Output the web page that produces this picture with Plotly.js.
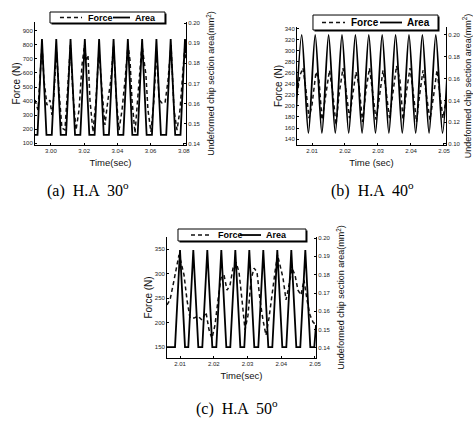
<!DOCTYPE html>
<html>
<head>
<meta charset="utf-8">
<script src="https://cdn.plot.ly/plotly-3.0.1.min.js"></script>
<style>html,body{margin:0;padding:0;background:#fff;}#chart{width:473px;height:423px;}</style>
</head>
<body>
<div id="chart"></div>
<script>
// ---- (a) H.A 30 deg ----
const timeAreaA = [2.9904, 2.9919, 2.9946, 2.9973, 3.0005, 3.0032, 3.0059, 3.0091, 3.0118, 3.0145, 3.0177, 3.0204, 3.0231, 3.0263, 3.0290, 3.0318, 3.0349, 3.0377, 3.0404, 3.0436, 3.0463, 3.0490, 3.0522, 3.0549, 3.0576, 3.0608, 3.0635, 3.0662, 3.0694, 3.0721, 3.0748, 3.0780, 3.0807, 3.0813];
const areaA = [0.1445, 0.1445, 0.192, 0.1445, 0.1445, 0.192, 0.1445, 0.1445, 0.192, 0.1445, 0.1445, 0.192, 0.1445, 0.1445, 0.192, 0.1445, 0.1445, 0.192, 0.1445, 0.1445, 0.192, 0.1445, 0.1445, 0.192, 0.1445, 0.1445, 0.192, 0.1445, 0.1445, 0.192, 0.1445, 0.1445, 0.192, 0.185];
const timeForceA = [2.9904, 2.9922, 2.9946, 2.9958, 2.9976, 2.9994, 3.0006, 3.0018, 3.0033, 3.0048, 3.0066, 3.0084, 3.0102, 3.0117, 3.0133, 3.0151, 3.0169, 3.0187, 3.0202, 3.0211, 3.0223, 3.0235, 3.0253, 3.0271, 3.0289, 3.0307, 3.0325, 3.0343, 3.0361, 3.0377, 3.0392, 3.0410, 3.0428, 3.0446, 3.0464, 3.0476, 3.0488, 3.0506, 3.0524, 3.0536, 3.0548, 3.0560, 3.0572, 3.0584, 3.0602, 3.0620, 3.0636, 3.0651, 3.0669, 3.0687, 3.0705, 3.0723, 3.0741, 3.0759, 3.0777, 3.0795, 3.0807, 3.0813];
const forceA = [407, 336, 800, 550, 371, 407, 300, 443, 764, 479, 207, 193, 514, 800, 443, 193, 336, 657, 800, 693, 728, 407, 179, 407, 764, 479, 229, 407, 550, 800, 443, 193, 336, 550, 800, 693, 407, 171, 443, 621, 800, 693, 586, 336, 179, 407, 764, 407, 386, 386, 550, 800, 336, 193, 336, 621, 800, 693];

// ---- (b) H.A 40 deg ----
const timeAreaB = [2.00485, 2.00688, 2.00891, 2.01097, 2.01300, 2.01503, 2.01706, 2.01909, 2.02112, 2.02315, 2.02518, 2.02721, 2.02924, 2.03127, 2.03330, 2.03533, 2.03736, 2.03939, 2.04142, 2.04345, 2.04548, 2.04752, 2.04955, 2.05158];
const areaB = [0.11, 0.20, 0.11, 0.20, 0.11, 0.20, 0.11, 0.20, 0.11, 0.20, 0.11, 0.20, 0.11, 0.20, 0.11, 0.20, 0.11, 0.20, 0.11, 0.20, 0.11, 0.20, 0.11, 0.20];
const timeForceB = [2.00545, 2.00636, 2.00727, 2.00818, 2.00909, 2.01000, 2.01121, 2.01212, 2.01303, 2.01394, 2.01530, 2.01636, 2.01727, 2.01818, 2.01939, 2.02030, 2.02136, 2.02212, 2.02333, 2.02424, 2.02530, 2.02636, 2.02742, 2.02848, 2.02939, 2.03030, 2.03152, 2.03242, 2.03348, 2.03424, 2.03561, 2.03667, 2.03758, 2.03848, 2.03970, 2.04061, 2.04167, 2.04242, 2.04364, 2.04455, 2.04576, 2.04667, 2.04788, 2.04879, 2.04970, 2.05061];
const forceB = [220, 256, 269, 229, 178, 202, 262, 247, 175, 211, 265, 220, 165, 220, 269, 229, 178, 211, 262, 238, 171, 229, 269, 220, 175, 211, 265, 229, 178, 211, 273, 247, 175, 220, 269, 229, 171, 211, 265, 225, 175, 211, 265, 220, 178, 211];

// ---- (c) H.A 50 deg ----
const timeAreaC = [2.00615, 2.00852, 2.01000, 2.01148, 2.01246, 2.01394, 2.01542, 2.01661, 2.01809, 2.01957, 2.02076, 2.02224, 2.02372, 2.02490, 2.02639, 2.02787, 2.02905, 2.03053, 2.03201, 2.03320, 2.03468, 2.03616, 2.03735, 2.03883, 2.04031, 2.04150, 2.04298, 2.04446, 2.04564, 2.04713, 2.04861, 2.04979, 2.05030];
const areaC = [0.1405, 0.1405, 0.1935, 0.1405, 0.1405, 0.1935, 0.1405, 0.1405, 0.1935, 0.1405, 0.1405, 0.1935, 0.1405, 0.1405, 0.1935, 0.1405, 0.1405, 0.1935, 0.1405, 0.1405, 0.1935, 0.1405, 0.1405, 0.1935, 0.1405, 0.1405, 0.1935, 0.1405, 0.1405, 0.1935, 0.1405, 0.1405, 0.1525];
const timeForceC = [2.00615, 2.00704, 2.00793, 2.00881, 2.00970, 2.01030, 2.01119, 2.01207, 2.01296, 2.01415, 2.01533, 2.01652, 2.01770, 2.01859, 2.01948, 2.02037, 2.02126, 2.02215, 2.02304, 2.02393, 2.02481, 2.02570, 2.02659, 2.02748, 2.02837, 2.02926, 2.03015, 2.03104, 2.03193, 2.03281, 2.03370, 2.03459, 2.03548, 2.03637, 2.03726, 2.03815, 2.03889, 2.03963, 2.04052, 2.04141, 2.04230, 2.04319, 2.04407, 2.04496, 2.04585, 2.04674, 2.04763, 2.04852, 2.04941, 2.05030];
const forceC = [236, 246, 276, 307, 338, 323, 297, 246, 209, 209, 213, 205, 221, 185, 168, 195, 246, 291, 297, 266, 276, 311, 323, 303, 246, 185, 215, 287, 311, 303, 246, 205, 174, 209, 256, 303, 338, 317, 291, 246, 276, 311, 297, 266, 256, 287, 246, 215, 201, 195];

const seriesNames = ['Force', 'Area'];
const captions = ['(a)  H.A  30<sup>o</sup>', '(b)  H.A  40<sup>o</sup>', '(c)  H.A  50<sup>o</sup>'];
const timeTitles = ['Time(sec)', 'Time (sec)', 'Time(sec)'];
const forceTitle = 'Force (N)';
const areaTitle = 'Undeformed chip section area(mm<sup>2</sup>)';

const FONT = 'Liberation Sans, Arial, sans-serif';
const FORCE_DASH = '4px,3px';
function forceTrace(x, y, xa, ya) {
  return {x: x, y: y, xaxis: xa, yaxis: ya, name: seriesNames[0], type: 'scatter', mode: 'lines', showlegend: false,
    line: {color: '#111', width: 1.5, dash: FORCE_DASH, simplify: false}};
}
function areaTrace(x, y, xa, ya, shape) {
  return {x: x, y: y, xaxis: xa, yaxis: ya, name: seriesNames[1], type: 'scatter', mode: 'lines', showlegend: false,
    line: {color: '#000', width: 1.8, shape: shape, smoothing: 0.8, simplify: false}};
}
const data = [
  forceTrace(timeForceA, forceA, 'x', 'y'),
  areaTrace(timeAreaA, areaA, 'x', 'y2', 'linear'),
  forceTrace(timeForceB, forceB, 'x2', 'y3'),
  areaTrace(timeAreaB, areaB, 'x2', 'y4', 'spline'),
  forceTrace(timeForceC, forceC, 'x3', 'y5'),
  areaTrace(timeAreaC, areaC, 'x3', 'y6', 'linear')
];

const tickFont = {family: FONT, size: 6, color: '#222'};
const titleFont = {family: FONT, size: 9.5, color: '#111'};
function xax(domain, anchor, range, tick0, dtick, title) {
  return {domain: domain, anchor: anchor, range: range, tick0: tick0, dtick: dtick, tickformat: '.2f',
    showline: true, linecolor: '#000', linewidth: 1, ticks: 'inside', ticklen: 2, tickcolor: '#000',
    showgrid: false, zeroline: false, tickfont: tickFont,
    title: {text: title, font: titleFont, standoff: 6}};
}
function yleft(domain, anchor, range, tick0, dtick) {
  return {domain: domain, anchor: anchor, range: range, tick0: tick0, dtick: dtick,
    showline: true, linecolor: '#000', linewidth: 1, ticks: 'inside', ticklen: 2, tickcolor: '#000',
    showgrid: false, zeroline: false, tickfont: tickFont,
    title: {text: forceTitle, font: {family: FONT, size: 10, color: '#111'}, standoff: 0}};
}
function yright(overlay, anchor, range, tick0, dtick) {
  return {overlaying: overlay, side: 'right', anchor: anchor, range: range, tick0: tick0, dtick: dtick, tickformat: '.2f',
    showline: true, linecolor: '#000', linewidth: 1, ticks: 'inside', ticklen: 2, tickcolor: '#000',
    showgrid: false, zeroline: false, tickfont: tickFont,
    title: {text: areaTitle, font: {family: FONT, size: 9, color: '#111'}, standoff: 8}};
}

// Origin-style legend boxes (paper coordinates): box, shadow, two samples, two labels
const legendBoxes = [
  {box: [0.1057, 0.9456, 0.3488, 0.9716], dash: [0.1268, 0.1734], solid: [0.2389, 0.2748], ly: 0.9586, fx: 0.1818, ax: 0.2812, fs: 9},
  {box: [0.6617, 0.9291, 0.9260, 0.9645], dash: [0.6808, 0.7294], solid: [0.8034, 0.8499], ly: 0.9468, fx: 0.7378, ax: 0.8562, fs: 10},
  {box: [0.3763, 0.4303, 0.6469, 0.4586], dash: [0.4038, 0.4482], solid: [0.5074, 0.5518], ly: 0.4444, fx: 0.4567, ax: 0.5581, fs: 9}
];
const shapes = [];
const annotations = [];
legendBoxes.forEach(function (L) {
  const sx = 1.5 / 473, sy = 1.5 / 423;
  shapes.push({type: 'rect', xref: 'paper', yref: 'paper', x0: L.box[0] + sx, y0: L.box[1] - sy, x1: L.box[2] + sx, y1: L.box[3] - sy,
    fillcolor: '#000', line: {width: 0}});
  shapes.push({type: 'rect', xref: 'paper', yref: 'paper', x0: L.box[0], y0: L.box[1], x1: L.box[2], y1: L.box[3],
    fillcolor: '#fff', line: {color: '#000', width: 1}});
  shapes.push({type: 'line', xref: 'paper', yref: 'paper', x0: L.dash[0], x1: L.dash[1], y0: L.ly, y1: L.ly,
    line: {color: '#111', width: 1.5, dash: FORCE_DASH}});
  shapes.push({type: 'line', xref: 'paper', yref: 'paper', x0: L.solid[0], x1: L.solid[1], y0: L.ly, y1: L.ly,
    line: {color: '#000', width: 1.8}});
  annotations.push({text: seriesNames[0], xref: 'paper', yref: 'paper', x: L.fx, y: L.ly, xanchor: 'left', yanchor: 'middle', showarrow: false,
    font: {family: FONT, size: L.fs, color: '#000', weight: 'bold'}});
  annotations.push({text: seriesNames[1], xref: 'paper', yref: 'paper', x: L.ax, y: L.ly, xanchor: 'left', yanchor: 'middle', showarrow: false,
    font: {family: FONT, size: L.fs, color: '#000', weight: 'bold'}});
});
const captionFont = {family: 'Liberation Serif, serif', size: 16, color: '#000'};
annotations.push({text: captions[0], xref: 'paper', yref: 'paper', x: 0.186, y: 0.553, showarrow: false, xanchor: 'center', yanchor: 'middle', font: captionFont});
annotations.push({text: captions[1], xref: 'paper', yref: 'paper', x: 0.788, y: 0.553, showarrow: false, xanchor: 'center', yanchor: 'middle', font: captionFont});
annotations.push({text: captions[2], xref: 'paper', yref: 'paper', x: 0.502, y: 0.036, showarrow: false, xanchor: 'center', yanchor: 'middle', font: captionFont});

const layout = {
  width: 473, height: 423, margin: {l: 0, r: 0, t: 0, b: 0},
  paper_bgcolor: '#fff', plot_bgcolor: '#fff', showlegend: false,
  xaxis: xax([0.0740, 0.3932], 'y', [2.9904, 3.0813], 3.00, 0.02, timeTitles[0]),
  yaxis: yleft([0.6572, 0.9480], 'x', [86, 964], 100, 100),
  yaxis2: yright('y', 'x', [0.1395, 0.2005], 0.14, 0.01),
  xaxis2: xax([0.6279, 0.9429], 'y3', [2.00545, 2.05061], 2.01, 0.01, timeTitles[1]),
  yaxis3: yleft([0.6572, 0.9362], 'x2', [129.1, 343.6], 140, 20),
  yaxis4: yright('y3', 'x2', [0.09908, 0.20734], 0.10, 0.02),
  xaxis3: xax([0.3531, 0.6681], 'y5', [2.00615, 2.0503], 2.01, 0.01, timeTitles[2]),
  yaxis5: yleft([0.1537, 0.4397], 'x3', [127.6, 374.5], 150, 50),
  yaxis6: yright('y5', 'x3', [0.13455, 0.20056], 0.14, 0.01),
  shapes: shapes,
  annotations: annotations
};
Plotly.newPlot('chart', data, layout, {displayModeBar: false, staticPlot: true});
</script>
</body>
</html>
